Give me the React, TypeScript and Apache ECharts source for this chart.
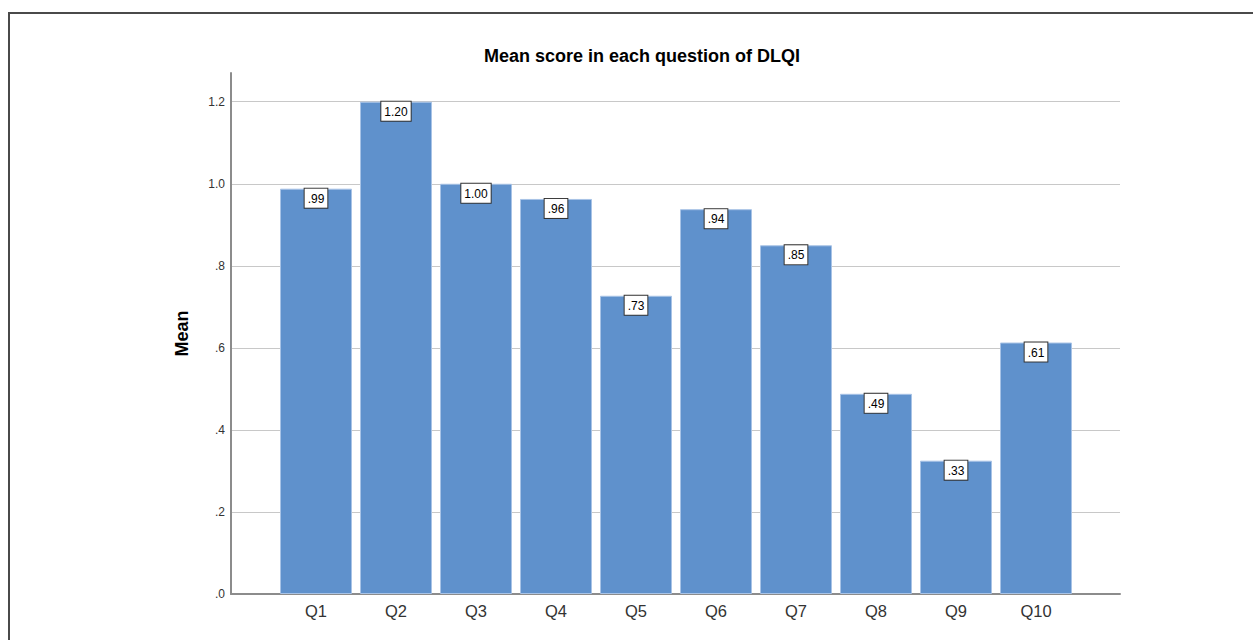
import React, { useEffect, useRef } from "react";
import * as echarts from "echarts";

const categories = ["Q1", "Q2", "Q3", "Q4", "Q5", "Q6", "Q7", "Q8", "Q9", "Q10"];
const meanValues = [0.988, 1.2, 1.0, 0.963, 0.727, 0.938, 0.85, 0.488, 0.325, 0.613];
const chartTitle = "Mean score in each question of DLQI";
const yAxisName = "Mean";

const fmt = (v: number) => {
  const s = v.toFixed(2);
  return s.startsWith("0") ? s.slice(1) : s;
};
const fmtAxis = (v: number) => {
  const s = v.toFixed(1);
  return s.startsWith("0") ? s.slice(1) : s;
};

export default function App() {
  const ref = useRef<HTMLDivElement>(null);
  useEffect(() => {
    if (!ref.current) return;
    const chart = echarts.init(ref.current, null, { renderer: "svg" });
    const font = "Liberation Sans, Arial, sans-serif";
    const gTop = 73;
    const gHeight = 521;
    const yMax = 1.27;
    chart.setOption({
      animation: false,
      backgroundColor: "#ffffff",
      textStyle: { fontFamily: font },
      title: {
        text: chartTitle,
        left: 637,
        textAlign: "center",
        top: 42,
        textStyle: { fontSize: 18, fontWeight: "bold", color: "#000", fontFamily: font },
      },
      graphic: [
        {
          type: "rect",
          shape: { x: 9, y: 13, width: 1300, height: 700 },
          style: { fill: "none", stroke: "#4a4a4a", lineWidth: 2 },
          silent: true,
        },
      ],
      grid: [
        { left: 231, width: 889, top: gTop, height: gHeight },
        { left: 276, width: 800, top: gTop, height: gHeight },
      ],
      xAxis: [
        {
          gridIndex: 0,
          type: "value",
          min: 0,
          max: 1,
          axisLine: { show: true, lineStyle: { color: "#8c8c8c", width: 2 } },
          axisTick: { show: false },
          axisLabel: { show: false },
          splitLine: { show: false },
        },
        {
          gridIndex: 1,
          type: "category",
          data: categories,
          axisLine: { show: false },
          axisTick: { show: false },
          axisLabel: { color: "#333", fontSize: 16.5, margin: 8, fontFamily: font },
        },
      ],
      yAxis: [
        {
          gridIndex: 0,
          type: "value",
          min: 0,
          max: yMax,
          interval: 0.2,
          name: yAxisName,
          nameLocation: "middle",
          nameGap: 40,
          nameRotate: 90,
          nameTextStyle: { fontSize: 18, fontWeight: "bold", color: "#000", fontFamily: font },
          axisLine: { show: true, lineStyle: { color: "#8c8c8c", width: 2 } },
          axisTick: { show: false },
          axisLabel: {
            color: "#333",
            fontSize: 12,
            margin: 6,
            showMaxLabel: false,
            formatter: (v: number) => fmtAxis(v),
          },
          splitLine: { show: true, showMaxLine: false, lineStyle: { color: "#c8c8c8", width: 1 } },
        },
        {
          gridIndex: 1,
          type: "value",
          min: 0,
          max: yMax,
          show: false,
          splitLine: { show: false },
        },
      ],
      series: [
        {
          type: "bar",
          xAxisIndex: 1,
          yAxisIndex: 1,
          data: meanValues,
          barWidth: 72,
          itemStyle: { color: "#5f91cc", borderColor: "#a8c3e6", borderWidth: 1 },
          label: {
            show: true,
            position: "insideTop",
            distance: 0,
            formatter: (p: any) => fmt(p.value),
            color: "#000",
            fontSize: 12,
            lineHeight: 14,
            backgroundColor: "#ffffff",
            borderColor: "#333",
            borderWidth: 1,
            padding: [3, 3, 2, 3],
            fontFamily: font,
          },
        },
      ],
    });
    return () => chart.dispose();
  }, []);
  return (
    <div
      ref={ref}
      style={{ position: "absolute", left: 0, top: 0, width: 1253, height: 640 }}
    />
  );
}
